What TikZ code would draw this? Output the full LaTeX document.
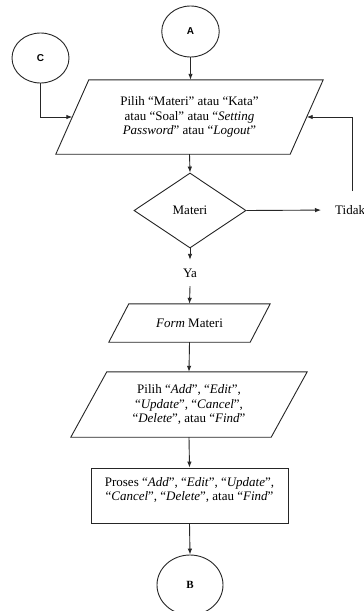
\documentclass[tikz,border=0pt]{standalone}
\usepackage{fontspec}
\setmainfont{Liberation Serif}
\newfontfamily\lsans{Liberation Sans}
\usetikzlibrary{shapes.geometric,arrows.meta,calc}

% parallelogram drawn over an invisible rectangular node
\newcommand\drawpara[2]{%
  \draw[ln] ($(#1.north west)+(#2,0)$) -- (#1.north east)
    -- ($(#1.south east)-(#2,0)$) -- (#1.south west) -- cycle;}

\tikzset{
  ln/.style={line width=0.9pt, draw=black!85},
  flow/.style={ln, -{Latex[length=6pt,width=4.5pt]}},
  txt/.style={font=\fontsize{13}{14.5}\selectfont, align=center, inner sep=0pt},
  conn/.style={ln, ellipse, inner sep=0pt},
  paranode/.style={txt, draw=none, rectangle},
  decision/.style={ln, diamond, txt, inner sep=0pt},
  procbox/.style={ln, rectangle, inner sep=0pt},
}

\begin{document}
\begin{tikzpicture}[x=1pt,y=-1pt]
  \useasboundingbox[fill=white] (0,0) rectangle (364,611);

  % connectors A, C, B
  \node[conn, minimum width=57.5pt, minimum height=51pt] (A) at (190.5,31.5)
    {\lsans\bfseries\fontsize{10}{12}\selectfont A};
  \node[conn, minimum width=57pt, minimum height=50pt] (C) at (40.5,58)
    {\lsans\bfseries\fontsize{10}{12}\selectfont C};

  % menu input
  \node[paranode, minimum width=267pt, minimum height=74pt] (p1) at (189.5,117)
    {Pilih “Materi” atau “Kata”\\ atau “Soal” atau “\textit{Setting}\\
     \textit{Password}” atau “\textit{Logout}”};
  \drawpara{p1}{33}
  \coordinate (p1l) at ($(p1.west)+(16.5,0)$);
  \coordinate (p1r) at ($(p1.east)-(16.5,0)$);

  % decision
  \node[decision, minimum width=112pt, minimum height=75pt] (d) at (190,210.5) {Materi};
  \node[txt, anchor=west] (tidak) at (335,210) {Tidak};
  \node[txt, minimum height=26pt] (ya) at (190,273) {Ya};

  % form
  \node[paranode, minimum width=161pt, minimum height=38pt] (p2) at (189.5,323)
    {\textit{Form} Materi};
  \drawpara{p2}{20}

  \node[paranode, minimum width=236pt, minimum height=65pt] (p3) at (189,404.5)
    {Pilih “\textit{Add}”, “\textit{Edit}”,\\ “\textit{Update}”, “\textit{Cancel}”,\\
     “\textit{Delete}”, atau “\textit{Find}”};
  \drawpara{p3}{36}

  % process
  \node[procbox, minimum width=197pt, minimum height=55pt] (r) at (189.5,495.5) {};
  \node[txt] (rt) at (189.5,490)
    {Proses “\textit{Add}”, “\textit{Edit}”, “\textit{Update}”,\\
     “\textit{Cancel}”, “\textit{Delete}”, atau “\textit{Find}”};

  \node[conn, minimum width=66pt, minimum height=60pt] (B) at (190,585)
    {\bfseries\fontsize{11}{13}\selectfont B};

  % loop-back line start
  \coordinate (back) at (352,191);

  % flow lines
  \draw[flow] (A.south) -- (A.south |- p1.north);
  \draw[flow] (C.south) |- (p1l);
  \draw[flow] (back) |- (p1r);
  \draw[flow] (p1.south) -- (d.north);
  \draw[flow, shorten >=14pt] (d.east) -- (tidak.west);
  \draw[flow] (d.south) -- (ya.north);
  \draw[flow] (ya.south) -- (p2.north);
  \draw[flow] (p2.south) -- (p3.north);
  \draw[flow] (p3.south) -- (r.north);
  \draw[flow] (r.south) -- (B.north);
\end{tikzpicture}
\end{document}
